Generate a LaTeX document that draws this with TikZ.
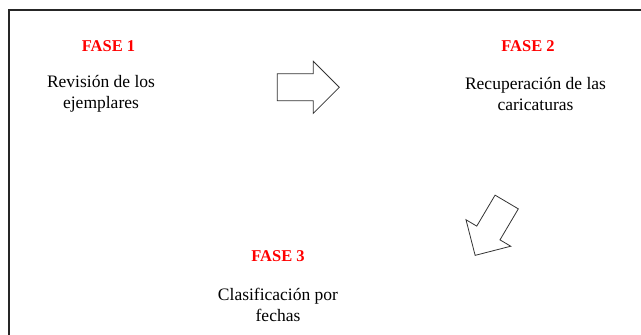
\documentclass[tikz,border=0pt]{standalone}
\usepackage{fontspec}
\setmainfont{Liberation Serif}
\begin{document}
\begin{tikzpicture}[x=1pt,y=-1pt,
    fase/.style={text=red,font=\fontsize{16.5}{20}\selectfont\bfseries},
    paso/.style={align=center,font=\fontsize{17.5}{21}\selectfont},
    flecha/.style={draw=black!80,line width=0.8pt,fill=white}]
  \useasboundingbox (0,0) rectangle (641,335);
  \draw[line width=2.2pt,black!85] (9,340) -- (9,10) -- (645,10);

  \node[fase] (fase1) at (108.5,46) {FASE 1};
  \node[paso] (paso1) at (101,94) {Revisión de los\\ejemplares};

  \node[fase] (fase2) at (528,46) {FASE 2};
  \node[paso] (paso2) at (535.5,94) {Recuperación de las\\caricaturas};

  \node[fase] (fase3) at (278,256) {FASE 3};
  \node[paso] (paso3) at (278,305) {Clasificación por\\fechas};

  \draw[flecha,shift={(277.3,87.3)}] (0,-13.5) -- (36,-13.5) -- (36,-26) -- (62,0)
    -- (36,26) -- (36,13.5) -- (0,13.5) -- cycle;
  \draw[flecha,shift={(506.7,202)},rotate=-120.6] (0,-13.5) -- (36,-13.5) -- (36,-26) -- (62,0)
    -- (36,26) -- (36,13.5) -- (0,13.5) -- cycle;
\end{tikzpicture}
\end{document}
